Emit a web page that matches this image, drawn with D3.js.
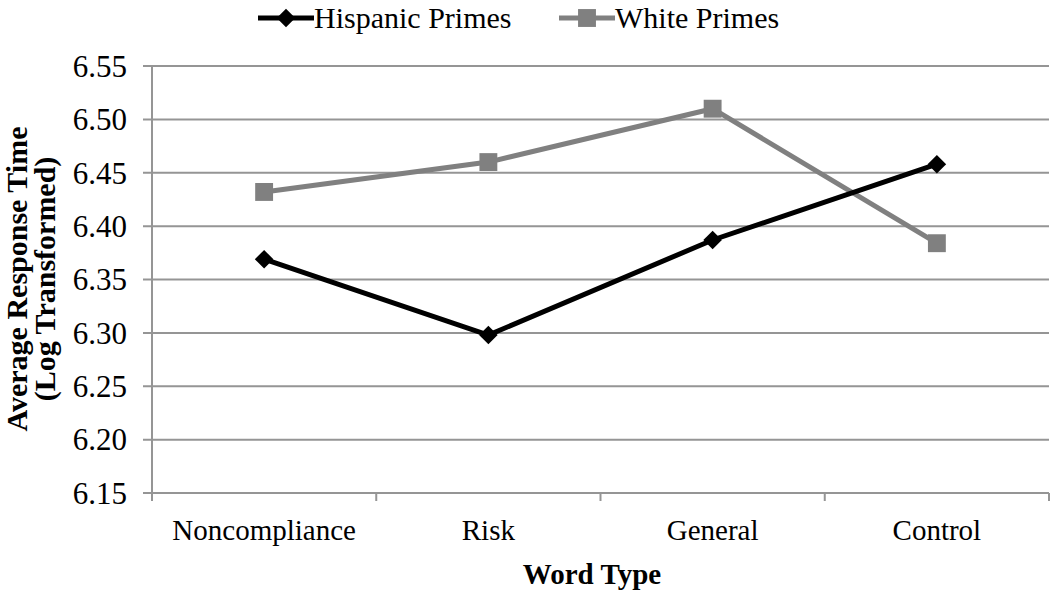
<!DOCTYPE html>
<html>
  <head>
    <style>
      body,
      html {
        margin: 0;
        padding: 0;
        background: #fff;
      }
    </style>
  </head>
  <body>
    <svg id="svg" width="1050" height="590" font-family="Liberation Serif, DejaVu Serif, serif"></svg>

    <script src="https://cdn.jsdelivr.net/npm/d3@7"></script>
    <script>
      const categories = ['Noncompliance', 'Risk', 'General', 'Control'];
      const hispanicPrimes = [6.369, 6.298, 6.387, 6.458];
      const whitePrimes = [6.432, 6.46, 6.51, 6.384];
      const yTicks = [6.15, 6.2, 6.25, 6.3, 6.35, 6.4, 6.45, 6.5, 6.55];

      const svg = d3.select('#svg');
      const plotLeft = 152;
      const plotRight = 1049;
      const plotTop = 66;
      const plotBottom = 493;

      const xScale = d3.scaleBand().domain(categories).range([plotLeft, plotRight]);
      const yScale = d3.scaleLinear().domain([6.15, 6.55]).range([plotBottom, plotTop]);

      // gridlines (with the small outward tick on the left)
      svg
        .append('g')
        .selectAll('line')
        .data(yTicks)
        .join('line')
        .attr('x1', plotLeft - 9)
        .attr('x2', plotRight)
        .attr('y1', (d) => yScale(d))
        .attr('y2', (d) => yScale(d))
        .attr('stroke', '#959595')
        .attr('stroke-width', 2);

      // y axis line
      svg
        .append('line')
        .attr('x1', plotLeft)
        .attr('x2', plotLeft)
        .attr('y1', plotTop)
        .attr('y2', plotBottom + 8)
        .attr('stroke', '#959595')
        .attr('stroke-width', 2);

      // x ticks at band edges
      const edges = categories.map((c) => xScale(c)).concat([plotRight]);
      svg
        .append('g')
        .selectAll('line')
        .data(edges.slice(1))
        .join('line')
        .attr('x1', (d) => d)
        .attr('x2', (d) => d)
        .attr('y1', plotBottom)
        .attr('y2', plotBottom + 8)
        .attr('stroke', '#959595')
        .attr('stroke-width', 2);

      // y tick labels
      svg
        .append('g')
        .selectAll('text')
        .data(yTicks)
        .join('text')
        .attr('x', 127)
        .attr('y', (d) => yScale(d))
        .attr('dy', '0.35em')
        .attr('text-anchor', 'end')
        .attr('font-size', 31)
        .text((d) => d3.format('.2f')(d));

      // x tick labels
      svg
        .append('g')
        .selectAll('text')
        .data(categories)
        .join('text')
        .attr('x', (d) => xScale(d) + xScale.bandwidth() / 2)
        .attr('y', 540)
        .attr('text-anchor', 'middle')
        .attr('font-size', 29)
        .text((d) => d);

      // axis titles
      svg
        .append('text')
        .attr('x', 592)
        .attr('y', 584)
        .attr('text-anchor', 'middle')
        .attr('font-size', 29)
        .attr('font-weight', 'bold')
        .text('Word Type');

      const yTitle = svg
        .append('text')
        .attr('transform', 'translate(6,279) rotate(-90)')
        .attr('text-anchor', 'middle')
        .attr('font-size', 30)
        .attr('font-weight', 'bold');
      yTitle.append('tspan').attr('x', 0).attr('y', 21).text('Average Response Time');
      yTitle.append('tspan').attr('x', 0).attr('y', 49).text('(Log Transformed)');

      const linegen = d3
        .line()
        .x((d, i) => xScale(categories[i]) + xScale.bandwidth() / 2)
        .y((d) => yScale(d));

      const diamond = d3.symbol().type(d3.symbolDiamond2).size(220);
      const square = d3.symbol().type(d3.symbolSquare).size(320);

      const series = [
        { name: 'White Primes', values: whitePrimes, color: '#808080', marker: square },
        { name: 'Hispanic Primes', values: hispanicPrimes, color: '#000000', marker: diamond },
      ];

      series.forEach((s) => {
        svg
          .append('path')
          .attr('d', linegen(s.values))
          .attr('stroke', s.color)
          .attr('stroke-width', 5)
          .attr('fill', 'none');
        svg
          .append('g')
          .selectAll('path')
          .data(s.values)
          .join('path')
          .attr(
            'transform',
            (d, i) => `translate(${xScale(categories[i]) + xScale.bandwidth() / 2},${yScale(d)})`
          )
          .attr('d', s.marker)
          .attr('fill', s.color);
      });

      // legend
      const legendItems = [
        { name: 'Hispanic Primes', color: '#000000', marker: diamond, x: 258 },
        { name: 'White Primes', color: '#808080', marker: square, x: 559 },
      ];
      const legend = svg
        .append('g')
        .selectAll('g')
        .data(legendItems)
        .join('g')
        .attr('transform', (d) => `translate(${d.x},18)`);
      legend
        .append('line')
        .attr('x1', 0)
        .attr('x2', 56)
        .attr('stroke', (d) => d.color)
        .attr('stroke-width', 5);
      legend
        .append('path')
        .attr('transform', 'translate(28,0)')
        .attr('d', (d) => d.marker())
        .attr('fill', (d) => d.color);
      legend
        .append('text')
        .attr('x', 56)
        .attr('y', 10)
        .attr('font-size', 30)
        .text((d) => d.name);
    </script>
  </body>
</html>
